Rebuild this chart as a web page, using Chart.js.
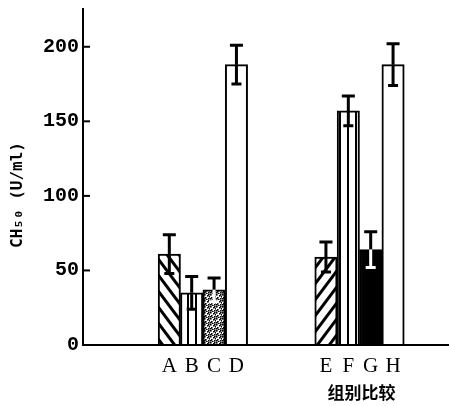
<!DOCTYPE html>
<html><head><meta charset="utf-8">
<script src="https://cdn.jsdelivr.net/npm/chart.js@4"></script>
<style>html,body{margin:0;padding:0;background:#fff;}#wrap{width:449px;height:406px;}</style>
</head><body><div id="wrap"><canvas id="c" width="449" height="406"></canvas></div>
<script>
const categories = ['', '', '', 'A', 'B', 'C', 'D', '', '', '', 'E', 'F', 'G', 'H', '', ''];
const values = [null, null, null, 61, 35, 37, 188, null, null, null, 59, 157, 64, 188, null, null];
const errors = [null, null, null, 13, 11, 8, 13, null, null, null, 10, 10, 12, 14, null, null];
const yTicks = [0, 50, 100, 150, 200];
const yTitle = 'CH\u2085\u2080 (U/ml)';
const xTitle = '组别比较';

function makeTile(w, h, draw) {
  const c = document.createElement('canvas');
  c.width = w; c.height = h;
  const g = c.getContext('2d');
  g.fillStyle = '#fff'; g.fillRect(0, 0, w, h);
  g.strokeStyle = '#000'; g.fillStyle = '#000';
  draw(g, w, h);
  return document.getElementById('c').getContext('2d').createPattern(c, 'repeat');
}
const hatchBack = makeTile(12, 16, (g, w, h) => {
  g.lineWidth = 3;
  g.beginPath();
  g.moveTo(-w, -h); g.lineTo(2 * w, 2 * h);
  g.moveTo(-w, 0); g.lineTo(w, 2 * h);
  g.moveTo(0, -h); g.lineTo(2 * w, h);
  g.stroke();
});
const hatchFwd = makeTile(12, 16, (g, w, h) => {
  g.lineWidth = 3;
  g.beginPath();
  g.moveTo(-w, 2 * h); g.lineTo(2 * w, -h);
  g.moveTo(-w, h); g.lineTo(w, -h);
  g.moveTo(0, 2 * h); g.lineTo(2 * w, 0);
  g.stroke();
});
const vlines = makeTile(8, 8, (g, w, h) => {
  g.fillRect(3, 0, 2, h);
});
const stipple = makeTile(6, 6, (g) => {
  [[0,0],[3,1],[1,3],[4,4],[2,5],[5,2],[0,4],[4,0]].forEach(p => g.fillRect(p[0], p[1], 1.6, 1.6));
});
const fills = {A: hatchBack, B: vlines, C: stipple, D: '#fff', E: hatchFwd, F: vlines, G: '#000', H: '#fff'};
const darkBars = {C: true, G: true};
const AXIS_X = 83;

const overlay = {
  id: 'overlay',
  afterDatasetsDraw(chart) {
    const ctx = chart.ctx;
    const x = chart.scales.x, y = chart.scales.y;
    const area = chart.chartArea;
    const meta = chart.getDatasetMeta(0);
    ctx.save();
    ctx.lineCap = 'butt';
    values.forEach((v, i) => {
      if (v == null) return;
      const bar = meta.data[i];
      const cx = bar.x;
      const yTop = y.getPixelForValue(v + errors[i]);
      const yMid = y.getPixelForValue(v);
      const yLow = y.getPixelForValue(v - errors[i]);
      ctx.lineWidth = 3;
      ctx.strokeStyle = '#000';
      ctx.beginPath();
      ctx.moveTo(cx, yTop); ctx.lineTo(cx, yMid);
      ctx.moveTo(cx - 6.5, yTop); ctx.lineTo(cx + 6.5, yTop);
      ctx.stroke();
      ctx.strokeStyle = darkBars[categories[i]] ? '#fff' : '#000';
      ctx.beginPath();
      ctx.moveTo(cx, yMid); ctx.lineTo(cx, yLow);
      ctx.moveTo(cx - 5, yLow); ctx.lineTo(cx + 5, yLow);
      ctx.stroke();
    });
    // axes lines
    ctx.strokeStyle = '#000';
    ctx.lineWidth = 2;
    ctx.beginPath();
    ctx.moveTo(AXIS_X, area.top);
    ctx.lineTo(AXIS_X, area.bottom + 1);
    ctx.moveTo(AXIS_X, area.bottom);
    ctx.lineTo(area.right, area.bottom);
    ctx.stroke();
    // inward y tick marks
    yTicks.forEach(t => {
      if (t === 0) return;
      const py = y.getPixelForValue(t);
      ctx.beginPath();
      ctx.moveTo(AXIS_X, py);
      ctx.lineTo(AXIS_X + 7, py);
      ctx.stroke();
    });
    // y title
    ctx.fillStyle = '#000';
    ctx.font = 'bold 16px "DejaVu Sans Mono"';
    ctx.textAlign = 'center';
    ctx.textBaseline = 'middle';
    ctx.save();
    ctx.translate(18, 195);
    ctx.rotate(-Math.PI / 2);
    ctx.fillText(yTitle, 0, 0);
    ctx.restore();
    // x title under F/G
    ctx.font = 'bold 17px "Noto Sans CJK SC"';
    ctx.fillText(xTitle, (x.getPixelForValue(11) + x.getPixelForValue(12)) / 2 + 2, 393);
    ctx.restore();
  }
};

new Chart(document.getElementById('c'), {
  type: 'bar',
  data: {
    labels: categories,
    datasets: [{
      data: values,
      backgroundColor: categories.map(c => fills[c] || '#fff'),
      borderColor: '#000',
      borderWidth: 2,
      barPercentage: 1,
      categoryPercentage: 1
    }]
  },
  options: {
    responsive: false,
    animation: false,
    devicePixelRatio: 1,
    layout: {padding: {top: 8, right: 0, left: 0, bottom: 0}},
    plugins: {legend: {display: false}, tooltip: {enabled: false}},
    scales: {
      x: {
        grid: {display: false, drawTicks: false},
        border: {display: false},
        ticks: {color: '#000', font: {family: '"Liberation Serif"', size: 21}, padding: 9, autoSkip: false, maxRotation: 0},
        afterFit: s => { s.height = 61; s.paddingLeft = 0; s.paddingRight = 0; }
      },
      y: {
        min: 0, max: 226,
        afterBuildTicks: s => { s.ticks = yTicks.map(v => ({value: v})); },
        grid: {display: false, drawTicks: false},
        border: {display: false},
        ticks: {color: '#000', font: {family: '"Liberation Mono"', size: 20, weight: 'bold'}, padding: 12},
        afterFit: s => { s.width = 91; s.paddingTop = 0; s.paddingBottom = 0; }
      }
    }
  },
  plugins: [overlay]
});
</script>
</body></html>
